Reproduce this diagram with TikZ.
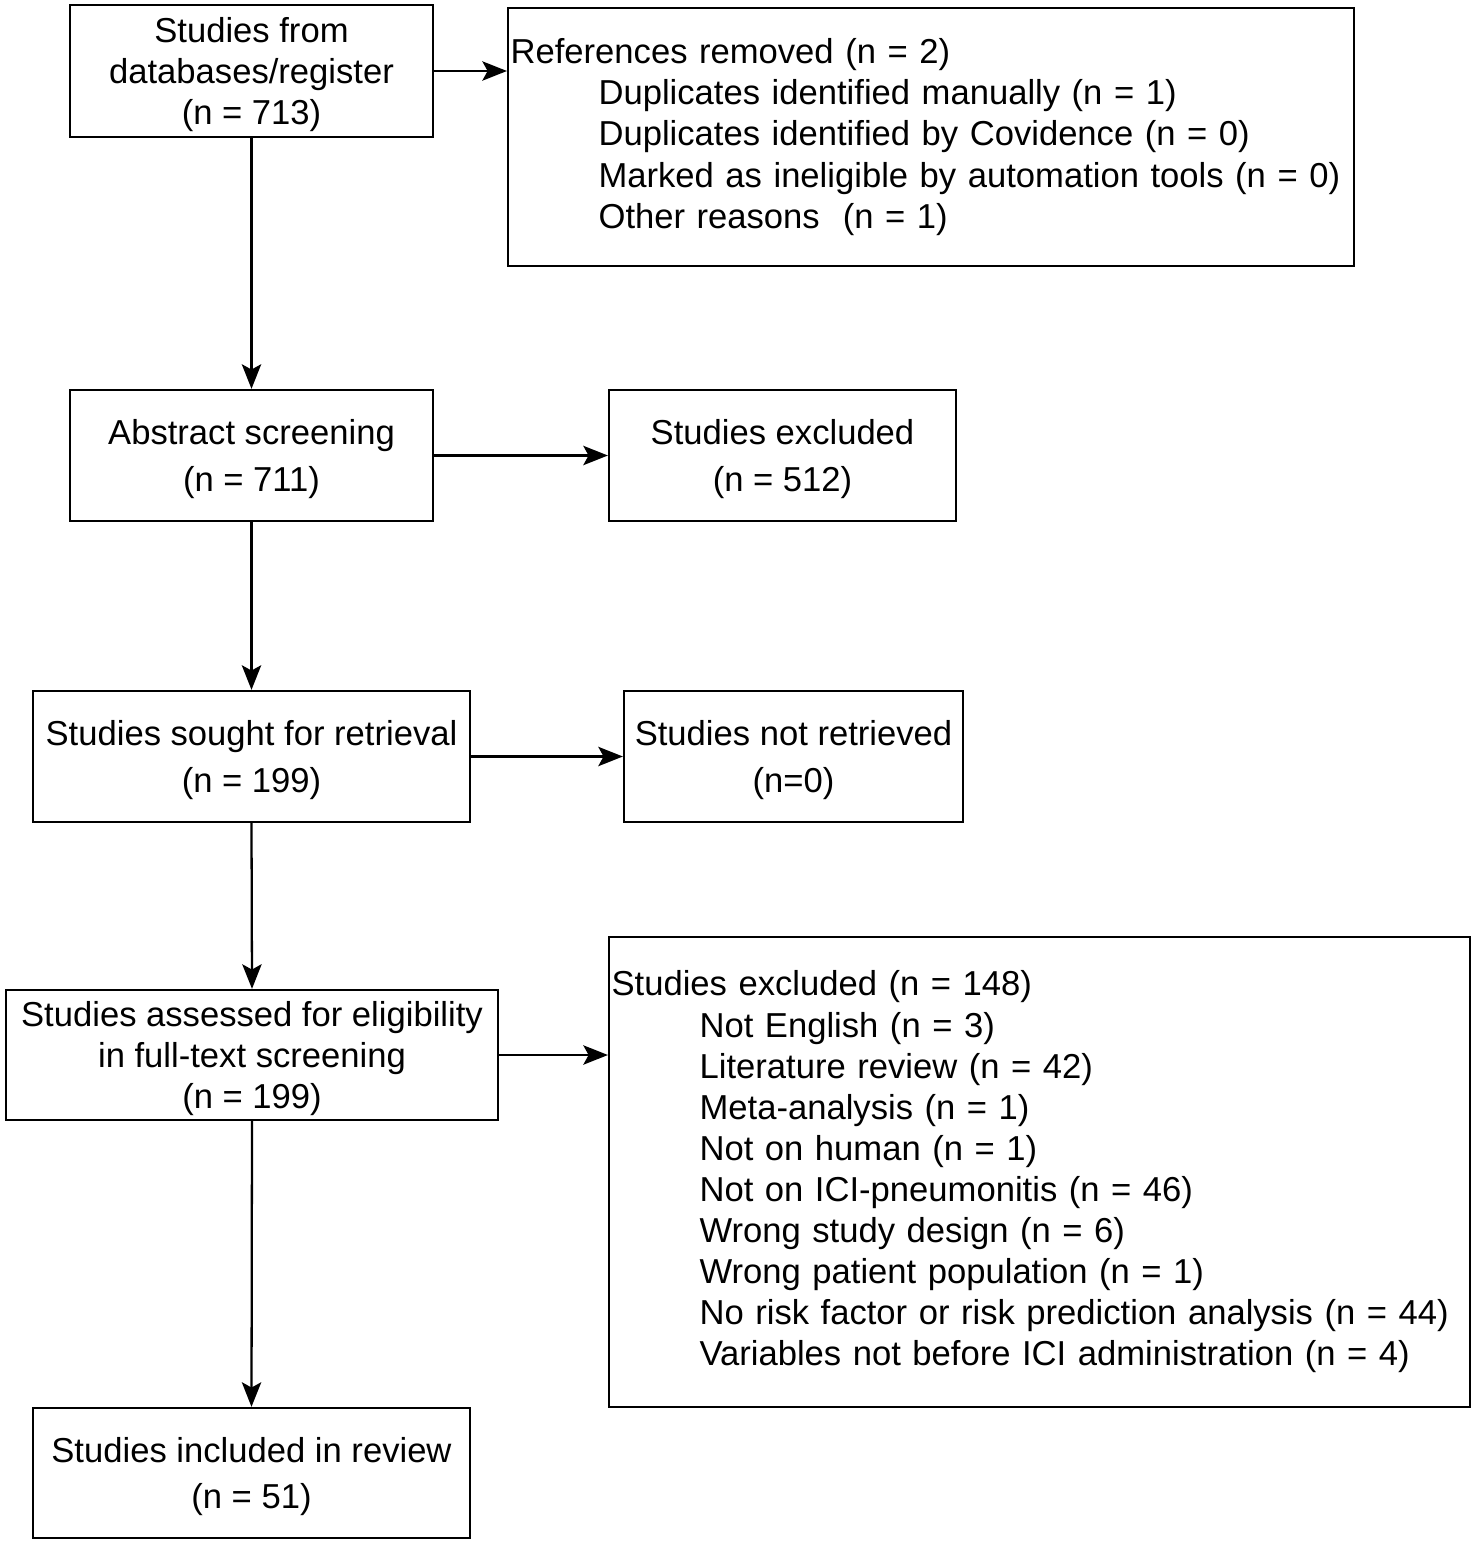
\documentclass[tikz,border=0pt]{standalone}
\usepackage{fontspec}
\setmainfont{Liberation Sans}
\usetikzlibrary{arrows.meta,positioning,calc}

\tikzset{casella/.style={draw,line width=1.3pt,align=center,inner sep=0pt,text depth=0pt},
	elenco/.style={draw,line width=1.3pt,align=left,inner sep=0pt},
	freccia/.style={line width=1.3pt,-{Stealth[length=14pt,width=11pt,inset=3pt]}}}

\newcommand{\rientro}{\hspace*{1.76cm}}

\begin{document}
\begin{tikzpicture}[x=0.02cm,y=-0.02cm,font=\fontsize{19.7}{23.4}\selectfont]
\useasboundingbox (0,0) rectangle (1476,1545);

%le caselle a sinistra
\node[casella,minimum width=7.26cm,minimum height=2.64cm] (dati) at(251.5,71)
	{Studies from\\databases/register\\(n = 713)};
\node[casella,minimum width=7.26cm,minimum height=2.62cm] (abstract) at(251.5,455.5)
	{Abstract screening\\[3pt](n = 711)};
\node[casella,minimum width=8.74cm,minimum height=2.62cm] (cercati) at(251.5,756.5)
	{Studies sought for retrieval\\[3pt](n = 199)};
\node[casella,minimum width=9.84cm,minimum height=2.6cm] (valutati) at(252,1055)
	{Studies assessed for eligibility\\in full-text screening\\(n = 199)};
\node[casella,minimum width=8.74cm,minimum height=2.6cm] (inclusi) at(251.5,1473)
	{Studies included in review\\[3pt](n = 51)};

%le caselle a destra
\node[elenco,minimum width=16.92cm,minimum height=5.16cm,text width=16.82cm] (rimossi) at(931,137)
	{References removed (n = 2)\\
	\rientro Duplicates identified manually (n = 1)\\
	\rientro Duplicates identified by Covidence (n = 0)\\
	\rientro Marked as ineligible by automation tools (n = 0)\\
	\rientro Other reasons~~(n = 1)};
\node[casella,minimum width=6.94cm,minimum height=2.62cm] (esclusi) at(782.5,455.5)
	{Studies excluded\\[3pt](n = 512)};
\node[casella,minimum width=6.78cm,minimum height=2.62cm] (nonrecuperati) at(793.5,756.5)
	{Studies not retrieved\\[3pt](n=0)};
\node[elenco,minimum width=17.22cm,minimum height=9.4cm,text width=17.12cm] (motivi) at(1039.5,1172)
	{Studies excluded (n = 148)\\
	\rientro Not English (n = 3)\\
	\rientro Literature review (n = 42)\\
	\rientro Meta-analysis (n = 1)\\
	\rientro Not on human (n = 1)\\
	\rientro Not on ICI-pneumonitis (n = 46)\\
	\rientro Wrong study design (n = 6)\\
	\rientro Wrong patient population (n = 1)\\
	\rientro No risk factor or risk prediction analysis (n = 44)\\
	\rientro Variables not before ICI administration (n = 4)};

%le frecce
\draw[freccia] (dati.south) -- (abstract.north);
\draw[freccia] (abstract.south) -- (cercati.north);
\draw[freccia] (cercati.south) -- (valutati.north);
\draw[freccia] (valutati.south) -- (inclusi.north);
\draw[freccia] (dati.east) -- (dati.east -| rimossi.west);
\draw[freccia] (abstract.east) -- (esclusi.west);
\draw[freccia] (cercati.east) -- (nonrecuperati.west);
\draw[freccia] (valutati.east) -- (valutati.east -| motivi.west);

\end{tikzpicture}
\end{document}
